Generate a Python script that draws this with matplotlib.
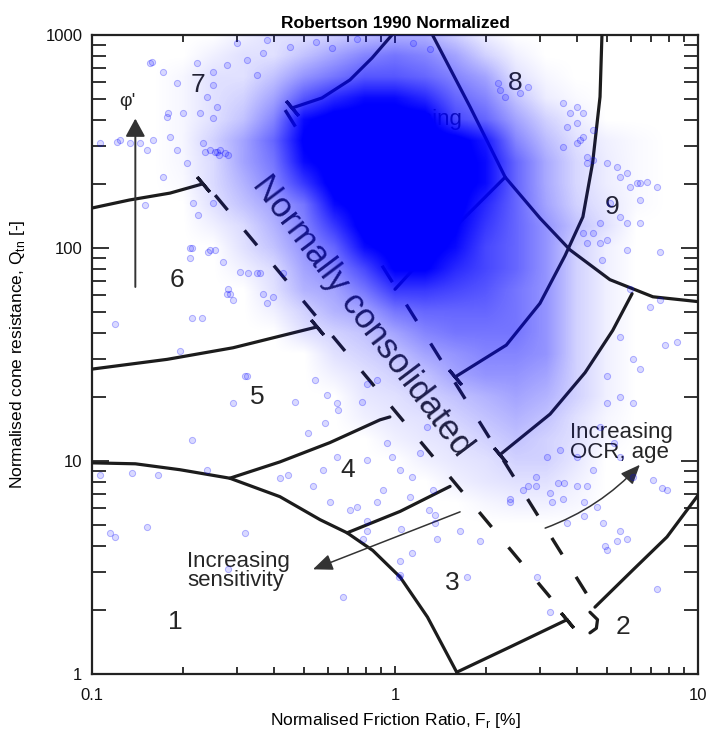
"""
Robertson 1990 normalised SBT chart with CPT data cloud.
"""
import numpy as np
import matplotlib
matplotlib.use("Agg")
import matplotlib.pyplot as plt
from matplotlib.colors import ListedColormap
from matplotlib.ticker import FixedLocator, FixedFormatter, NullFormatter

plt.rcParams["font.family"] = ["Liberation Sans", "DejaVu Sans"]
plt.rcParams["lines.scale_dashes"] = False

LINE = "#1c1c1c"
TXT = "#262626"

# === ZONE BOUNDARIES (Fr [%], Qtn [-]) ===
Z1_FR = [0.1, 0.139, 0.195, 0.285, 0.417, 0.566, 0.695, 0.845, 1.04, 1.28, 1.61]
Z1_Q = [9.8, 9.7, 9.1, 8.3, 6.8, 5.3, 4.6, 3.8, 2.85, 1.85, 1.0]
Z34_FR = [0.695, 1.04, 1.52]
Z34_Q = [4.6, 5.8, 7.6]
Z45_FR = [0.285, 0.417, 0.610, 0.892, 0.962]
Z45_Q = [8.3, 9.9, 12.2, 15.6, 16.1]
Z56_FR = [0.1, 0.177, 0.292, 0.553]
Z56_Q = [27, 30, 34, 42.6]
Z67_FR = [0.1, 0.133, 0.181, 0.232]
Z67_Q = [154, 168, 181, 200]
TOP_FR = [0.977, 0.84, 0.710, 0.574, 0.457]
TOP_Q = [1000, 780, 615, 506, 454]
ARC_E_FR = [1.58, 2.33, 3.01, 3.64, 4.17, 4.49, 4.75, 4.82]
ARC_E_Q = [24.8, 35, 55, 92, 140, 251, 512, 1000]
ARC_F_FR = [2.22, 3.25, 4.24, 5.23, 6.06]
ARC_F_Q = [10.7, 16.6, 26, 41, 61]
LINE_I_FR = [1.33, 1.77, 2.31, 3.01, 3.78, 5.12, 7.10, 10.0]
LINE_I_Q = [1000, 459, 215, 138, 98, 71, 59, 56]
LINE_III_FR = [2.31, 1.21, 1.0]
LINE_III_Q = [215, 86, 64]
Z23_FR = [1.60, 2.40, 3.70]
Z23_Q = [1.02, 1.34, 1.80]
Z2R_FR = [4.57, 6.10, 7.90, 10.0]
Z2R_Q = [2.06, 3.08, 4.4, 6.9]
HOOK_FR = [4.40, 4.66, 4.62, 4.40]
HOOK_Q = [1.95, 1.80, 1.64, 1.56]
NC_LEFT_FR = [0.255, 3.64]
NC_LEFT_Q = [177, 1.89]
NC_RIGHT_FR = [0.434, 4.57]
NC_RIGHT_Q = [444, 2.06]
CAP_FR = [0.232, 0.553, 0.457, 1.58, 2.22, 3.70]
CAP_Q = [200, 42.6, 454, 24.8, 10.7, 1.80]

ZONE_NAMES = ["1", "2", "3", "4", "5", "6", "7", "8", "9"]
ZONE_FR = [0.188, 5.65, 1.55, 0.70, 0.35, 0.191, 0.224, 2.49, 5.2]
ZONE_Q = [1.75, 1.66, 2.67, 9.1, 20, 71, 583, 595, 156]

# === DATA CLOUD: density read per 0.1-decade node (0 = empty, 9 = solid) ===
# each row: Qtn node from 1000 downward; (first Fr column, levels)
CLOUD_ROWS = [
    (5, [0.5, 1, 1, 1.5, 2, 2.5, 2.5, 1.5, 0.5]),
    (4, [0.5, 1, 1, 2, 3, 4, 4.5, 4, 3, 1.5, 0.5]),
    (3, [0.3, 1, 1, 2, 3.5, 4.5, 5.5, 5.5, 5, 4, 3, 1, 0.3]),
    (3, [0.3, 1, 1.5, 3, 5.5, 7, 8, 8, 7, 5, 4, 2, 0.6, 0.2]),
    (3, [0.3, 1, 2, 4, 8, 9, 9, 9, 9, 6, 5, 3, 1.5, 0.6]),
    (3, [0.3, 1.5, 3, 5, 8.5, 9, 9, 9, 9, 9, 7.5, 4, 2.2, 1, 0.5, 0.2]),
    (3, [0.3, 1.2, 3, 4.5, 8, 9, 9, 9, 9, 9, 8, 5, 2.8, 1.3, 0.6, 0.2]),
    (3, [0.2, 1.2, 2.5, 4, 6.5, 9, 9, 9, 9, 9, 8, 5, 2.8, 1.3, 0.6, 0.2]),
    (4, [1, 2, 3, 4.5, 8, 9, 9, 9, 9, 7, 5, 3, 1.5, 0.8, 0.2]),
    (4, [0.5, 1.2, 2.5, 4, 6.5, 9, 9, 9, 8.5, 6.5, 5, 3.5, 2, 1]),
    (5, [1, 2, 3.5, 5, 8, 9, 9, 8, 6, 5, 3.5, 1.5, 0.5]),
    (5, [0.5, 1.2, 3, 4, 6, 8.5, 8.5, 7, 6, 5, 3.5, 1.5, 0.5]),
    (6, [1, 2.5, 3, 4.5, 6.5, 6.5, 6, 5.5, 4.5, 3.5, 1.5, 0.5]),
    (6, [0.5, 1.5, 2.5, 3, 4.5, 5, 5, 5, 4.5, 3.5, 1.5, 0.5]),
    (7, [1, 1.5, 2, 3, 4, 4.5, 4.5, 4.5, 3.5, 1.5, 0.5]),
    (8, [1, 1.5, 2, 3, 3.5, 4, 4, 3.5, 1.5, 0.5]),
    (8, [0.5, 1, 1.5, 2, 3, 3.5, 3.5, 3, 1.5, 0.5]),
    (9, [0.8, 1, 1.5, 2, 2.5, 3, 2.5, 1.5, 0.5]),
    (9, [0.5, 0.8, 1, 1.5, 2, 2.5, 2, 1, 0.3]),
    (10, [0.5, 0.8, 1, 1.5, 2, 1.5, 1, 0.3]),
    (11, [0.5, 0.8, 1, 1.5, 1.5, 0.8]),
    (12, [0.5, 0.8, 1, 1, 0.5]),
    (13, [0.3, 0.5, 0.5, 0.3]),
]

# scattered individual points outside the dense cloud
OUT_FR = [
    0.158, 0.172, 0.222, 0.251, 0.279, 0.325, 0.367, 0.351, 0.177, 0.200, 0.227, 0.106,
    0.124, 0.144, 0.159, 0.232, 0.259, 0.206, 0.172, 0.155, 0.191, 0.178, 0.121, 0.133,
    0.152, 0.181, 0.191, 0.150, 0.215, 0.224, 0.251, 0.211, 0.245, 0.255, 0.211, 0.270,
    0.281, 0.240, 0.251, 0.259, 0.250, 0.245, 0.255, 0.264, 0.275, 0.262, 0.236, 0.281,
    0.301, 0.378, 0.45, 0.55, 0.62, 0.75, 1.15, 1.3,
    0.213, 0.241, 0.308, 0.327, 0.358, 0.285, 0.292, 0.213, 0.231, 0.119, 0.195, 0.325,
    0.292, 0.468, 0.213, 0.106, 0.136, 0.165, 0.240, 0.367, 0.396, 0.378, 0.427, 0.279,
    0.351, 0.320, 0.545, 0.596, 0.516, 0.588, 0.644, 0.649, 0.781, 0.811, 0.875, 0.94,
    0.98, 1.04, 1.14, 1.21, 1.28, 0.81, 0.644, 0.58, 0.536, 0.61, 0.71, 0.875, 0.91,
    1.12, 1.29, 0.417, 0.444,
    0.152, 0.115, 0.119, 0.320, 0.281, 0.673, 0.75, 0.81, 0.785, 1.05, 1.14, 1.04, 1.36,
    1.36, 1.38, 1.33, 1.64, 1.04, 1.91, 1.73, 2.95, 3.25, 7.3, 4.93, 5.0, 5.4, 5.85,
    5.53, 4.85, 3.7, 4.2, 4.65, 7.6, 2.40, 2.64, 2.93, 3.25, 3.58, 4.0, 4.2, 3.44, 0.81,
    1.03,
    6.1, 8.5, 6.43, 5.53, 6.1, 5.0, 7.1, 7.9, 5.3, 5.53, 6.1, 4.5, 4.3, 3.6, 3.3, 2.40,
    2.74, 2.93, 3.18, 3.5, 4.0, 4.75, 5.0, 5.53, 5.96, 6.94, 7.5, 7.78,
    5.0, 5.4, 5.53, 5.96, 6.43, 6.8, 7.3, 5.85, 5.12, 5.53, 5.85, 6.43, 5.85, 7.5, 4.75,
    4.49, 4.3, 4.75, 4.82, 2.18, 2.22, 2.31, 2.59, 2.74, 3.58, 3.78, 3.98, 3.7, 4.17,
    4.49, 4.0, 4.3, 4.3, 4.49, 3.58, 3.98, 4.17, 4.08, 6.3, 6.43, 4.17, 5.0,
]
OUT_QTN = [
    747, 670, 739, 670, 723, 763, 823, 649, 412, 430, 430, 311,
    321, 311, 321, 311, 282, 251, 215, 739, 595, 430, 314, 311,
    288, 332, 288, 159, 163, 143, 163, 100, 98, 98, 90, 86,
    64, 512, 583, 459, 407, 288, 282, 288, 279, 273, 282, 273,
    917, 947, 880, 930, 870, 960, 920, 860,
    100, 96, 77, 76, 76, 61, 57, 47, 47, 44, 33, 25,
    18.7, 18.9, 12.6, 8.6, 8.8, 8.6, 9.1, 61, 59, 55, 76, 61,
    76, 25, 24, 20.4, 13.5, 15.1, 18.7, 17.4, 18.9, 23, 24, 12.2,
    10.4, 9.1, 8.4, 10.9, 14.4, 10.1, 10.4, 9.1, 7.6, 6.4, 5.9, 6.4, 7.3,
    6.8, 5.9, 8.3, 8.6,
    4.9, 4.6, 4.4, 4.6, 3.1, 2.3, 6.1, 5.2, 4.3, 4.8, 3.7, 2.9, 5.6,
    5.1, 4.3, 7.3, 4.7, 3.4, 4.2, 2.85, 2.85, 1.95, 2.5, 4.0, 3.8, 4.2, 4.3,
    4.7, 5.1, 5.1, 5.5, 6.1, 7.5, 6.6, 7.3, 7.6, 7.1, 6.6, 7.6, 6.4, 7.9, 4.7,
    2.85,
    30, 36, 27, 20, 18.7, 18.7, 8.1, 7.3, 12.2, 10.4, 8.4, 9.1, 7.6, 7.9, 6.4, 6.4,
    7.6, 8.4, 10.4, 11.3, 10.4, 14.4, 25, 38, 64, 53, 57, 35,
    251, 240, 215, 193, 202, 204, 193, 225, 163, 140, 131, 131, 98, 96, 131,
    117, 106, 106, 88, 595, 552, 512, 532, 570, 479, 430, 386, 370, 332,
    358, 459, 267, 251, 259, 298, 311, 430, 321, 202, 168, 117, 109,
]

# === FIGURE ===
fig = plt.figure(figsize=(7.11, 7.33), dpi=100, facecolor="white")
rect = [0.1294, 0.0805, 0.8523, 0.8718]
ax = fig.add_axes(rect)
ax.set_xscale("log")
ax.set_yscale("log")

# zone boundaries
for xs, ys in [(Z1_FR, Z1_Q), (Z34_FR, Z34_Q), (Z45_FR, Z45_Q), (Z56_FR, Z56_Q),
               (Z67_FR, Z67_Q), (TOP_FR, TOP_Q), (ARC_E_FR, ARC_E_Q),
               (ARC_F_FR, ARC_F_Q), (LINE_I_FR, LINE_I_Q), (LINE_III_FR, LINE_III_Q),
               (Z23_FR, Z23_Q), (Z2R_FR, Z2R_Q), (HOOK_FR, HOOK_Q)]:
    ax.plot(xs, ys, color=LINE, lw=2.3, zorder=3, solid_capstyle="round")
for xs, ys in [(NC_LEFT_FR, NC_LEFT_Q), (NC_RIGHT_FR, NC_RIGHT_Q)]:
    ax.plot(xs, ys, color=LINE, lw=2.4, dashes=(14, 19), zorder=3)
ax.plot(CAP_FR, CAP_Q, ls="none", marker=(2, 2, 40), ms=14, mew=2.3,
        mec=LINE, zorder=3)

# zone numbers
for name, fx, fy in zip(ZONE_NAMES, ZONE_FR, ZONE_Q):
    ax.text(fx, fy, name, fontsize=19, color=TXT, ha="center", va="center", zorder=4)

ax.text(0.778, 48, "Normally consolidated", fontsize=25, color=TXT, rotation=-53,
        ha="center", va="center", rotation_mode="anchor", zorder=4)
ax.text(1.66, 399, "Increasing", fontsize=16, color=TXT, ha="right",
        va="center", zorder=2)
ax.text(0.206, 3.05, "Increasing\nsensitivity", fontsize=16, color=TXT,
        ha="left", va="center", linespacing=0.9, zorder=4)
ax.text(3.78, 12.2, "Increasing\nOCR, age", fontsize=16, color=TXT,
        ha="left", va="center", linespacing=0.9, zorder=4)
ax.text(0.131, 485, "\u03c6'", fontsize=14, color=TXT, ha="center",
        va="center", zorder=4)

# arrows
ax.annotate("", xy=(0.139, 405), xytext=(0.139, 65.6), zorder=4,
            arrowprops=dict(arrowstyle="-|>,head_length=0.55,head_width=0.3",
                            mutation_scale=20, lw=1.4, color="#333333",
                            shrinkA=0, shrinkB=0))
ax.annotate("", xy=(0.536, 3.1), xytext=(1.64, 5.77), zorder=4,
            arrowprops=dict(arrowstyle="-|>,head_length=0.6,head_width=0.25",
                            mutation_scale=20, lw=1.1, color="#333333",
                            shrinkA=0, shrinkB=0))
ax.annotate("", xy=(6.43, 9.6), xytext=(3.13, 4.84), zorder=4,
            arrowprops=dict(arrowstyle="-|>,head_length=0.6,head_width=0.25",
                            mutation_scale=20, lw=1.1, color="#333333",
                            shrinkA=0, shrinkB=0,
                            connectionstyle="arc3,rad=0.12"))

ax.scatter(OUT_FR, OUT_QTN, s=20, facecolor=(0, 0, 1, 0.15),
           edgecolor=(0, 0, 1, 0.28), linewidth=0.7, zorder=6)
ax.set_xlim(0.1, 10)
ax.set_ylim(1, 1000)

# data cloud: levels on 0.1-decade nodes, shown on an overlay in log10 units
dens = np.zeros((31, 21))
for j, (start, levels) in enumerate(CLOUD_ROWS):
    dens[j, start:start + len(levels)] = levels
alpha = np.linspace(0, 1, 256)
cloud_cmap = ListedColormap(np.column_stack([np.zeros(256), np.zeros(256),
                                             np.ones(256), alpha]))
ax_cloud = fig.add_axes(rect, zorder=ax.get_zorder() + 1)
ax_cloud.imshow(dens, extent=(-1.05, 1.05, -0.05, 3.05), origin="upper",
                cmap=cloud_cmap, vmin=0, vmax=8.3, interpolation="bilinear",
                interpolation_stage="data", aspect="auto")
ax_cloud.set_xlim(-1, 1)
ax_cloud.set_ylim(0, 3)
ax_cloud.axis("off")
ax_cloud.patch.set_visible(False)

# axes styling
ax.xaxis.set_major_locator(FixedLocator([0.1, 1, 10]))
ax.xaxis.set_major_formatter(FixedFormatter(["0.1", "1", "10"]))
ax.yaxis.set_major_locator(FixedLocator([1, 10, 100, 1000]))
ax.yaxis.set_major_formatter(FixedFormatter(["1", "10", "100", "1000"]))
ax.xaxis.set_minor_formatter(NullFormatter())
ax.yaxis.set_minor_formatter(NullFormatter())
ax.tick_params(which="both", direction="in", top=True, right=True,
               colors="#333333", labelcolor="#111111", labelsize=12, width=1.4)
ax.tick_params(axis="y", which="major", length=12, pad=7)
ax.tick_params(axis="y", which="minor", length=10)
ax.tick_params(axis="x", which="major", length=6, pad=10)
ax.tick_params(axis="x", which="minor", length=5)
for spine in ax.spines.values():
    spine.set_linewidth(1.6)
    spine.set_color("#222222")

ax.set_title("Robertson 1990 Normalized", fontsize=12.5, fontweight="bold", pad=5)
ax.set_xlabel("Normalised Friction Ratio, F$_{\\mathregular{r}}$ [%]", fontsize=12.5)
ax.set_ylabel("Normalised cone resistance, Q$_{\\mathregular{tn}}$ [-]", fontsize=12.5)
ax.xaxis.set_label_coords(0.5, -0.058)
ax.yaxis.set_label_coords(-0.107, 0.5)

fig.savefig("out.png", dpi=100, facecolor="white")
